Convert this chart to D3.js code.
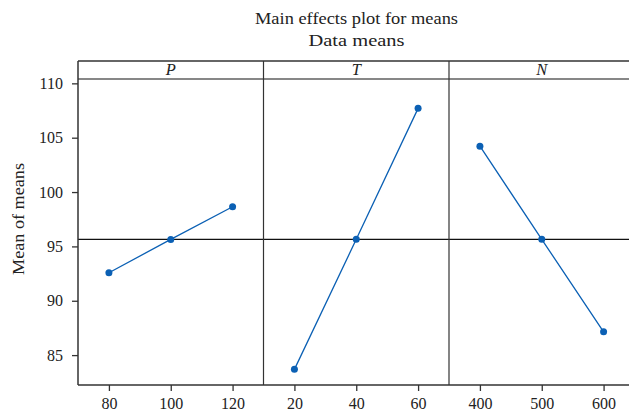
<!DOCTYPE html>
<html><head><meta charset="utf-8">
<script src="https://cdn.jsdelivr.net/npm/d3@7"></script>
<style>body{margin:0;background:#fff}svg{display:block}text{font-family:"Liberation Serif","DejaVu Serif",serif;fill:#222}</style>
</head><body><svg id="c" width="629" height="416"></svg>
<script>
const factors = ["P", "T", "N"];
const levelsP = [80, 100, 120];
const levelsT = [20, 40, 60];
const levelsN = [400, 500, 600];
const meansP = [92.58, 95.64, 98.65];
const meansT = [83.69, 95.65, 107.7];
const meansN = [104.22, 95.65, 87.14];
const domainsX = [[70, 130], [10, 70], [350, 650]];
const yTicks = [85, 90, 95, 100, 105, 110];
const grandMean = 95.65;
const title1 = "Main effects plot for means";
const title2 = "Data means";
const yLabel = "Mean of means";

const levels = [levelsP, levelsT, levelsN];
const means = [meansP, meansT, meansN];

const svg = d3.select("#c");
const left = 78, panelW = 185.5, stripTop = 61, plotTop = 79, plotBottom = 385;
const right = left + 3 * panelW;
const blue = "#0b60b4";
const fs = 16.5;

const y = d3.scaleLinear().domain([82.25, 110.4]).range([plotBottom, plotTop]);

// titles
const cx = 356.5;
svg.append("text").attr("x", cx).attr("y", 24).attr("text-anchor", "middle").attr("font-size", fs)
  .attr("textLength", 203).attr("lengthAdjust", "spacingAndGlyphs").text(title1);
svg.append("text").attr("x", cx).attr("y", 46).attr("text-anchor", "middle").attr("font-size", fs)
  .attr("textLength", 96).attr("lengthAdjust", "spacingAndGlyphs").text(title2);

// y label
svg.append("text").attr("transform", `translate(24,219) rotate(-90)`).attr("text-anchor", "middle").attr("font-size", fs)
  .attr("textLength", 112).attr("lengthAdjust", "spacingAndGlyphs").text(yLabel);

// y axis
const yAxis = d3.axisLeft(y).tickValues(yTicks).tickSize(6).tickPadding(9);
const yg = svg.append("g").attr("transform", `translate(${left},0)`).call(yAxis);
yg.select(".domain").remove();
yg.selectAll("line").attr("stroke", "#333").attr("stroke-width", 1.3);
yg.selectAll("text").attr("font-size", 16).attr("font-family", "Liberation Serif").attr("fill", "#222");

// grand mean line
svg.append("line").attr("x1", left).attr("x2", right).attr("y1", y(grandMean)).attr("y2", y(grandMean))
  .attr("stroke", "#111").attr("stroke-width", 1.2);

factors.forEach((f, i) => {
  const x0 = left + i * panelW;
  const x = d3.scaleLinear().domain(domainsX[i]).range([x0, x0 + panelW]);
  // strip label
  svg.append("text").attr("x", x0 + panelW / 2).attr("y", 75).attr("text-anchor", "middle")
    .attr("font-size", fs).attr("font-style", "italic").text(f);
  // x axis
  const xa = d3.axisBottom(x).tickValues(levels[i]).tickSize(6).tickPadding(7);
  const g = svg.append("g").attr("transform", `translate(0,${plotBottom})`).call(xa);
  g.select(".domain").remove();
  g.selectAll("line").attr("stroke", "#333").attr("stroke-width", 1.3);
  g.selectAll("text").attr("font-size", 16).attr("font-family", "Liberation Serif").attr("fill", "#222");
  // data
  const pts = levels[i].map((l, k) => [x(l), y(means[i][k])]);
  svg.append("path").attr("d", d3.line()(pts)).attr("fill", "none").attr("stroke", blue).attr("stroke-width", 1.3);
  svg.selectAll(null).data(pts).enter().append("circle").attr("cx", d => d[0]).attr("cy", d => d[1]).attr("r", 3.5).attr("fill", blue);
});

// frame and dividers
const fr = "#333";
svg.append("line").attr("x1", left).attr("x2", right).attr("y1", stripTop).attr("y2", stripTop).attr("stroke", fr).attr("stroke-width", 1.5);
svg.append("line").attr("x1", left).attr("x2", right).attr("y1", plotTop).attr("y2", plotTop).attr("stroke", "#111").attr("stroke-width", 1.2);
svg.append("line").attr("x1", left).attr("x2", right).attr("y1", plotBottom).attr("y2", plotBottom).attr("stroke", fr).attr("stroke-width", 1.5);
[0, 1, 2, 3].forEach(i => {
  const xx = left + i * panelW;
  svg.append("line").attr("x1", xx).attr("x2", xx).attr("y1", stripTop).attr("y2", plotBottom).attr("stroke", fr).attr("stroke-width", i === 0 ? 1.5 : 1.2);
});
</script></body></html>
